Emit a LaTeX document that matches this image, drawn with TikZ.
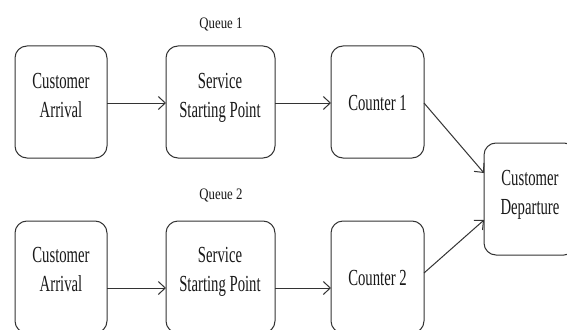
\documentclass[tikz,border=0pt]{standalone}
\usepackage{fontspec}
\setmainfont{Liberation Serif}
\usepackage{graphicx}
\usetikzlibrary{arrows.meta,calc}
\newcommand\boxtxt[1]{\scalebox{0.64}[1]{\fontsize{23}{29}\selectfont\begin{tabular}[t]{@{}c@{}}#1\end{tabular}}}
\newcommand\qtxt[1]{\scalebox{0.8}[1]{\fontsize{16}{19}\selectfont #1}}
\begin{document}
\begin{tikzpicture}[x=1pt,y=-1pt,
  box/.style={draw=black!80, line width=1pt, rounded corners=12pt, minimum height=112pt, inner sep=0pt, outer sep=0pt},
  txt/.style={anchor=base, inner sep=0pt, text=black!90},
  arr/.style={draw=black!80, line width=1pt, -{Straight Barb[length=7pt,width=13pt,line width=1pt]}}]
\useasboundingbox (0,0) rectangle (567,329);
\clip (0,0) rectangle (567,329);
\fill[white] (0,0) rectangle (567,329);
% boxes
\node[box, minimum width=92pt]  (A1) at (61,102) {};
\node[box, minimum width=109pt] (S1) at (220.5,102) {};
\node[box, minimum width=93pt]  (C1) at (377.5,102) {};
\node[box, minimum width=92pt]  (D)  at (530,199) {};
\node[box, minimum width=92pt]  (A2) at (61,277) {};
\node[box, minimum width=109pt] (S2) at (220.5,277) {};
\node[box, minimum width=93pt]  (C2) at (377.5,277) {};
% texts
\node[txt] (tA1) at (61,88) {\boxtxt{Customer\\Arrival}};
\node[txt] (tS1) at (220,88) {\boxtxt{Service\\Starting Point}};
\node[txt] (tC1) at (377.5,110) {\boxtxt{Counter 1}};
\node[txt] (tD)  at (530,185) {\boxtxt{Customer\\Departure}};
\node[txt] (tA2) at (61,262) {\boxtxt{Customer\\Arrival}};
\node[txt] (tS2) at (220,262) {\boxtxt{Service\\Starting Point}};
\node[txt] (tC2) at (377.5,285) {\boxtxt{Counter 2}};
\node[txt] (Q1) at (221,28.5) {\qtxt{Queue 1}};
\node[txt] (Q2) at (221,199) {\qtxt{Queue 2}};
% connectors
\draw[arr] ($(A1.east)+(0,1)$) -- ($(S1.west)+(0,1)$);
\draw[arr] ($(S1.east)+(0,1)$) -- ($(C1.west)+(0,1)$);
\draw[arr] ($(A2.east)+(0,11)$) -- ($(S2.west)+(0,11)$);
\draw[arr] ($(S2.east)+(0,11)$) -- ($(C2.west)+(0,11)$);
\draw[arr] ($(C1.east)+(0,1)$) -- ($(D.west)+(0,-26)$);
\draw[arr] ($(C2.east)+(0,-4)$) -- ($(D.west)+(0,21)$);
\end{tikzpicture}
\end{document}
